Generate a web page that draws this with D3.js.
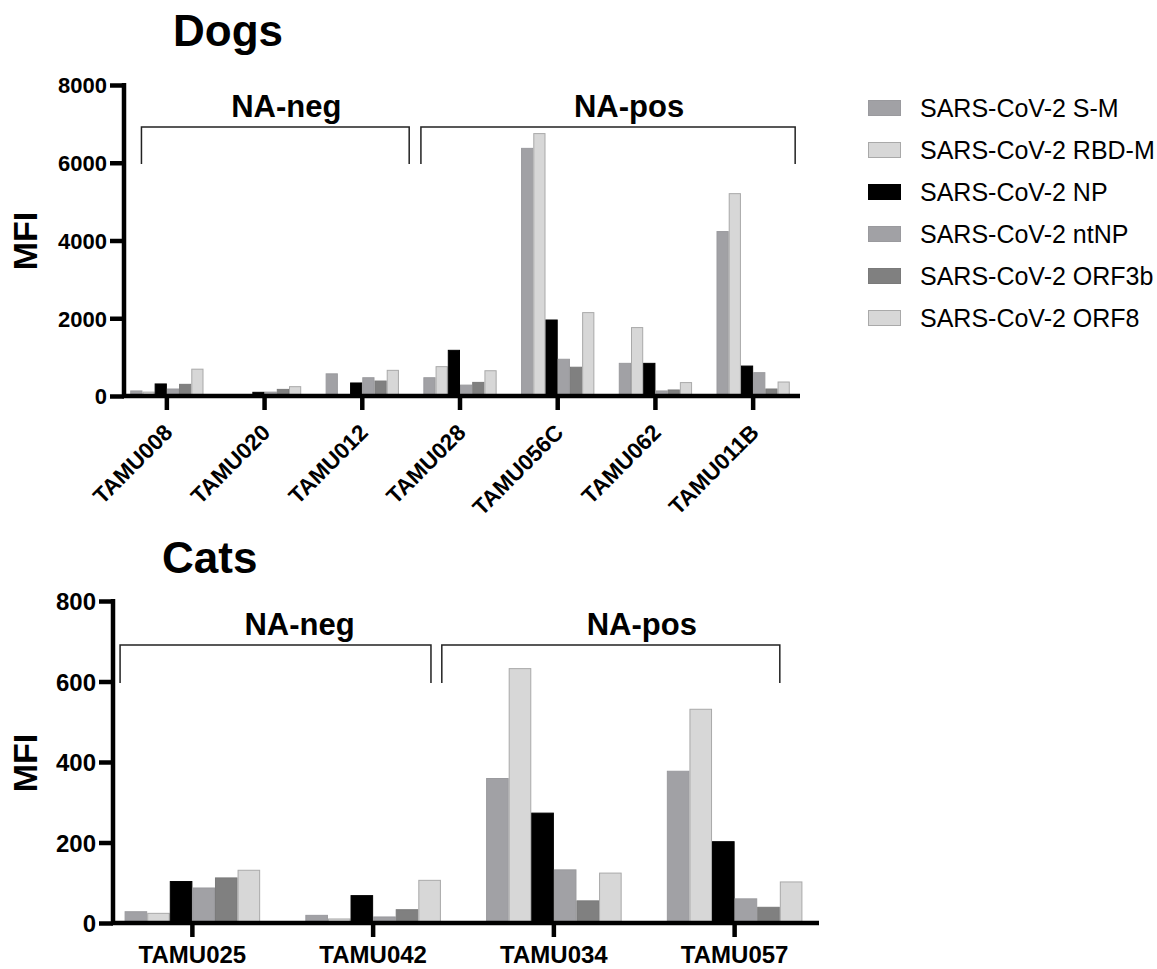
<!DOCTYPE html>
<html>
<head>
<meta charset="utf-8">
<script src="https://cdn.jsdelivr.net/npm/d3@7"></script>
<style>
  body { margin: 0; background: #fff; }
  text { font-family: "Liberation Sans", Arial, sans-serif; }
</style>
</head>
<body>
<script>
// series (antigens)
const series = ["SARS-CoV-2 S-M", "SARS-CoV-2 RBD-M", "SARS-CoV-2 NP",
                "SARS-CoV-2 ntNP", "SARS-CoV-2 ORF3b", "SARS-CoV-2 ORF8"];

// dogs
const dogSamples = ["TAMU008", "TAMU020", "TAMU012", "TAMU028", "TAMU056C", "TAMU062", "TAMU011B"];
const dogSM    = [130, 20, 570, 470, 6370, 840, 4230];
const dogRBD   = [100, 10, 10, 755, 6750, 1760, 5205];
const dogNP    = [310, 95, 335, 1175, 1955, 840, 770];
const dogNtNP  = [180, 100, 470, 280, 945, 130, 600];
const dogORF3b = [300, 170, 385, 350, 740, 155, 180];
const dogORF8  = [690, 240, 660, 650, 2145, 345, 360];
const dogTicks = [0, 2000, 4000, 6000, 8000];

// cats
const catSamples = ["TAMU025", "TAMU042", "TAMU034", "TAMU057"];
const catSM    = [28, 19, 359, 377];
const catRBD   = [24, 10, 632, 531];
const catNP    = [103, 68, 273, 202];
const catNtNP  = [87, 15, 132, 60];
const catORF3b = [112, 33, 55, 39];
const catORF8  = [131, 106, 124, 102];
const catTicks = [0, 200, 400, 600, 800];

// NA groups
const dogGroups = [["NA-neg", "TAMU008", "TAMU012"], ["NA-pos", "TAMU028", "TAMU011B"]];
const catGroups = [["NA-neg", "TAMU025", "TAMU042"], ["NA-pos", "TAMU034", "TAMU057"]];

const fills   = ["#a1a1a5", "#d7d7d7", "#000000", "#a1a1a5", "#808080", "#d7d7d7"];
const strokes = ["#9a9a9e", "#a9a9a9", "#000000", "#9a9a9e", "#7a7a7a", "#a9a9a9"];

const svg = d3.select("body").append("svg")
    .attr("width", 1157)
    .attr("height", 969);

function drawPanel(opt) {
  const g = svg.append("g");
  const x0 = d3.scaleBand().domain(opt.samples).range(opt.xRange)
      .paddingInner(0.25).paddingOuter(0.125);
  const x1 = d3.scaleBand().domain(series).range([0, x0.bandwidth()]);
  const y = d3.scaleLinear().domain([0, opt.max]).range(opt.yRange);

  const rows = opt.samples.map((s, i) => ({
    sample: s,
    vals: opt.values.map((v, j) => ({key: series[j], j: j, v: v[i]}))
  }));

  // bars
  g.selectAll(".grp")
    .data(rows)
    .enter().append("g")
      .attr("transform", d => `translate(${x0(d.sample)},0)`)
    .selectAll("rect")
    .data(d => d.vals)
    .enter().append("rect")
      .attr("x", d => x1(d.key) + 0.5)
      .attr("width", x1.bandwidth() - 1)
      .attr("y", d => y(d.v))
      .attr("height", d => y(0) - y(d.v))
      .attr("fill", d => fills[d.j])
      .attr("stroke", d => strokes[d.j])
      .attr("stroke-width", 1);

  // y axis
  const ya = g.append("g")
      .attr("transform", `translate(${opt.axisX},0)`)
      .call(d3.axisLeft(y).tickValues(opt.ticks).tickFormat(d3.format("d"))
        .tickSize(14).tickSizeOuter(0).tickPadding(3));
  ya.select(".domain").attr("stroke-width", 4.5)
    .attr("d", `M0,${y(opt.max) - 2}V${y(0) + 2}`);
  ya.selectAll(".tick line").attr("stroke-width", 4.5);
  ya.selectAll(".tick text")
    .style("font-family", '"Liberation Sans", Arial, sans-serif')
    .style("font-weight", "bold").style("font-size", opt.tickFont + "px")
    .attr("dy", "0.36em");

  // x axis
  const xa = g.append("g")
      .attr("transform", `translate(0,${y(0)})`)
      .call(d3.axisBottom(x0).tickSize(14).tickSizeOuter(0));
  xa.select(".domain").attr("stroke-width", 4.5)
    .attr("d", `M${opt.axisX - 2},0H${opt.axisEnd}`);
  xa.selectAll(".tick line").attr("stroke-width", 4.5);
  const xt = xa.selectAll(".tick text")
    .style("font-family", '"Liberation Sans", Arial, sans-serif')
    .style("font-weight", "bold").style("font-size", opt.xFont + "px");
  if (opt.rotate) {
    xt.attr("text-anchor", "end").attr("y", 0).attr("dy", 0)
      .attr("transform", "translate(7,38) rotate(-45)");
  } else {
    xt.attr("y", 23).attr("dy", "0.71em");
  }

  // title
  g.append("text")
    .attr("x", opt.axisX + 49).attr("y", opt.titleY)
    .style("font-weight", "bold").style("font-size", "44px")
    .text(opt.title);

  // y label
  g.append("text")
    .attr("transform", `translate(37,${opt.labelY}) rotate(-90)`)
    .attr("text-anchor", "middle")
    .style("font-weight", "bold").style("font-size", "34px")
    .text("MFI");

  // NA brackets
  const step = x0.step(), half = x0.bandwidth() / 2;
  opt.groups.forEach((grp, i) => {
    const [lo, hi] = opt.bracketOff[i];
    const x1p = x0(grp[1]) + half + lo * step;
    const x2p = x0(grp[2]) + half + hi * step;
    g.append("path")
      .attr("d", `M${x1p},${opt.bracketBottom}V${opt.bracketTop}H${x2p}V${opt.bracketBottom}`)
      .attr("fill", "none").attr("stroke", "#222").attr("stroke-width", 1.5);
    g.append("text")
      .attr("x", (x1p + x2p) / 2 + opt.labelShift[i]).attr("y", opt.bracketTop - 10)
      .attr("text-anchor", "middle")
      .style("font-weight", "bold").style("font-size", "31px")
      .text(grp[0]);
  });
}

drawPanel({
  title: "Dogs", titleY: 46, labelY: 241,
  samples: dogSamples,
  values: [dogSM, dogRBD, dogNP, dogNtNP, dogORF3b, dogORF8],
  max: 8000, ticks: dogTicks, tickFont: 22, xFont: 22.5, rotate: true,
  xRange: [118, 802], yRange: [396, 85], axisX: 124, axisEnd: 800,
  groups: dogGroups, bracketOff: [[-0.26, 0.48], [-0.40, 0.43]], labelShift: [11, 21],
  bracketTop: 127, bracketBottom: 164
});

drawPanel({
  title: "Cats", titleY: 573, labelY: 763,
  samples: catSamples,
  values: [catSM, catRBD, catNP, catNtNP, catORF3b, catORF8],
  max: 800, ticks: catTicks, tickFont: 24, xFont: 24, rotate: false,
  xRange: [102, 825], yRange: [923, 601], axisX: 113, axisEnd: 819,
  groups: catGroups, bracketOff: [[-0.40, 0.32], [-0.62, 0.25]], labelShift: [24, 31],
  bracketTop: 645, bracketBottom: 683
});

// legend
const legend = svg.append("g").attr("transform", "translate(868,108)");
const li = legend.selectAll("g")
    .data(series)
    .enter().append("g")
      .attr("transform", (d, i) => `translate(0,${i * 42})`);
li.append("rect")
    .attr("x", 0.5).attr("y", -7.5).attr("width", 32).attr("height", 15)
    .attr("fill", (d, i) => fills[i]).attr("stroke", (d, i) => strokes[i]);
li.append("text")
    .attr("x", 52).attr("dy", "0.36em")
    .style("font-size", "25px")
    .text(d => d);
</script>
</body>
</html>
